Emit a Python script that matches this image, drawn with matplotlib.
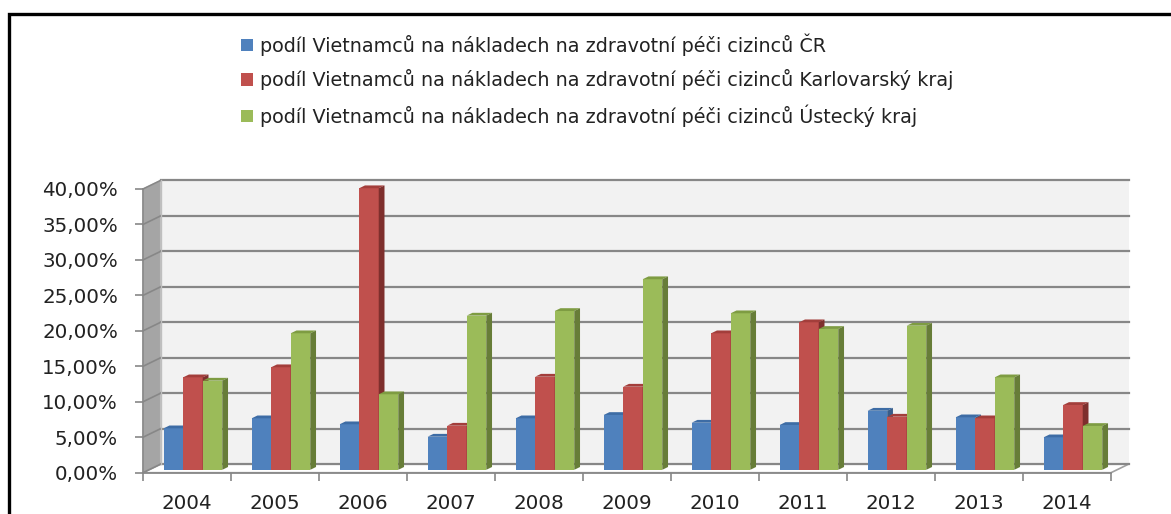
import matplotlib
matplotlib.use("Agg")
import matplotlib.pyplot as plt
from matplotlib.patches import Polygon
from matplotlib.lines import Line2D
import numpy as np

years = ["2004", "2005", "2006", "2007", "2008", "2009", "2010", "2011", "2012", "2013", "2014"]
cr = [5.85, 7.26, 6.42, 4.67, 7.26, 7.73, 6.64, 6.32, 8.33, 7.40, 4.58]
karlovarsky = [13.04, 14.46, 39.70, 6.22, 13.13, 11.72, 19.25, 20.80, 7.49, 7.26, 9.14]
ustecky = [12.57, 19.25, 10.65, 21.74, 22.39, 26.87, 22.07, 19.86, 20.32, 13.04, 6.18]
labels = [
    "podíl Vietnamců na nákladech na zdravotní péči cizinců ČR",
    "podíl Vietnamců na nákladech na zdravotní péči cizinců Karlovarský kraj",
    "podíl Vietnamců na nákladech na zdravotní péči cizinců Ústecký kraj",
]
yticks = [0, 5, 10, 15, 20, 25, 30, 35, 40]

front_cols = ["#4F81BD", "#C0504D", "#9BBB59"]
top_cols = ["#3D6CA5", "#A33E3B", "#7E9C42"]
side_cols = ["#385D8A", "#7E2F2D", "#677D38"]

W, H = 1171, 514
fig = plt.figure(figsize=(W / 100, H / 100), dpi=100)
fig.patch.set_facecolor("white")

# plot area in pixels (front plane)
x_left, x_right = 143, 1111
y_zero, y_top = 472.7, 189
ax = fig.add_axes([x_left / W, 1 - y_zero / H, (x_right - x_left) / W, (y_zero - y_top) / H])
n = len(years)
ax.set_xlim(0, n)
ax.set_ylim(0, 40)
ax.patch.set_visible(False)

# depth offsets in data units
DX = 17.5 / ((x_right - x_left) / n)
DY = 8.5 / ((y_zero - y_top) / 40)
gcol = "#878787"

# back wall
ax.add_patch(Polygon([(DX, DY), (n + DX, DY), (n + DX, 40 + DY), (DX, 40 + DY)],
                     closed=True, facecolor="#F2F2F2", edgecolor="none", clip_on=False, zorder=0))
# left side wall
ax.add_patch(Polygon([(0, 0), (DX, DY), (DX, 40 + DY), (0, 40)],
                     closed=True, facecolor="#A5A5A5", edgecolor="#BFBFBF", lw=0.8, clip_on=False, zorder=0.5))
# floor
ax.add_patch(Polygon([(0, 0), (n, 0), (n + DX, DY), (DX, DY)],
                     closed=True, facecolor="white", edgecolor="#A0A0A0", lw=1.2, clip_on=False, zorder=0.6))
# gridlines
for v in yticks:
    ax.plot([DX, n + DX], [v + DY, v + DY], color=gcol, lw=1.6, clip_on=False, zorder=0.7)
    ax.plot([0, DX], [v, v + DY], color=gcol, lw=1.2, clip_on=False, zorder=0.7)
ax.plot([DX, DX], [DY, 40 + DY], color="#BFBFBF", lw=1.0, clip_on=False, zorder=0.7)

# bars
series = [cr, karlovarsky, ustecky]
bw = 0.222
z0 = 0.34
dz = 0.33
gap = (1 - 3 * bw) / 2
idx = np.arange(n)
handles = []
for s, vals in enumerate(series):
    xs = idx + gap + s * bw + z0 * DX
    bottom = z0 * DY
    bars = ax.bar(xs, vals, width=bw, bottom=bottom, align="edge", color=front_cols[s],
                  edgecolor="none", clip_on=False, zorder=2 + s * 0.1, label=labels[s])
    handles.append(bars)
    for x0, v in zip(xs, vals):
        top = bottom + v
        ax.add_patch(Polygon([(x0, top), (x0 + bw, top), (x0 + bw + dz * DX, top + dz * DY),
                              (x0 + dz * DX, top + dz * DY)], closed=True,
                             facecolor=top_cols[s], edgecolor="none", clip_on=False, zorder=2 + s * 0.1 + 0.05))
        ax.add_patch(Polygon([(x0 + bw, bottom), (x0 + bw + dz * DX, bottom + dz * DY),
                              (x0 + bw + dz * DX, top + dz * DY), (x0 + bw, top)], closed=True,
                             facecolor=side_cols[s], edgecolor="none", clip_on=False, zorder=2 + s * 0.1 + 0.05))

# axes styling
for sp in ["top", "right"]:
    ax.spines[sp].set_visible(False)
ax.spines["left"].set_color(gcol)
ax.spines["bottom"].set_color(gcol)
ax.spines["left"].set_linewidth(1.2)
ax.spines["bottom"].set_linewidth(1.2)
ax.set_yticks(yticks)
ax.set_yticklabels([f"{v:.2f}".replace(".", ",") + "%" for v in yticks])
ax.tick_params(axis="y", length=6, width=1.2, color=gcol, pad=12, labelsize=14.3, labelcolor="#222222")
ax.set_xticks(np.arange(n + 1))
ax.set_xticklabels([])
ax.set_xticks(idx + 0.5, minor=True)
ax.set_xticklabels(years, minor=True)
ax.tick_params(axis="x", which="major", length=6, width=1.2, color=gcol)
ax.tick_params(axis="x", which="minor", length=0, pad=15, labelsize=14.3, labelcolor="#222222")

# legend
leg = fig.legend(handles=handles, labels=labels, loc="upper left",
                 bbox_to_anchor=(241 / W, 1 - 33 / H), frameon=False, fontsize=13.8,
                 handlelength=0.6, handleheight=0.6, handletextpad=0.4, labelspacing=0.72,
                 borderpad=0, borderaxespad=0)
for t in leg.get_texts():
    t.set_color("#222222")

# outer frame
fig.add_artist(Line2D([9 / W, 9 / W, 1.0], [0, 1 - 14 / H, 1 - 14 / H], transform=fig.transFigure,
                      color="black", lw=2.4, solid_joinstyle="miter"))

fig.savefig("out.png", dpi=100)
